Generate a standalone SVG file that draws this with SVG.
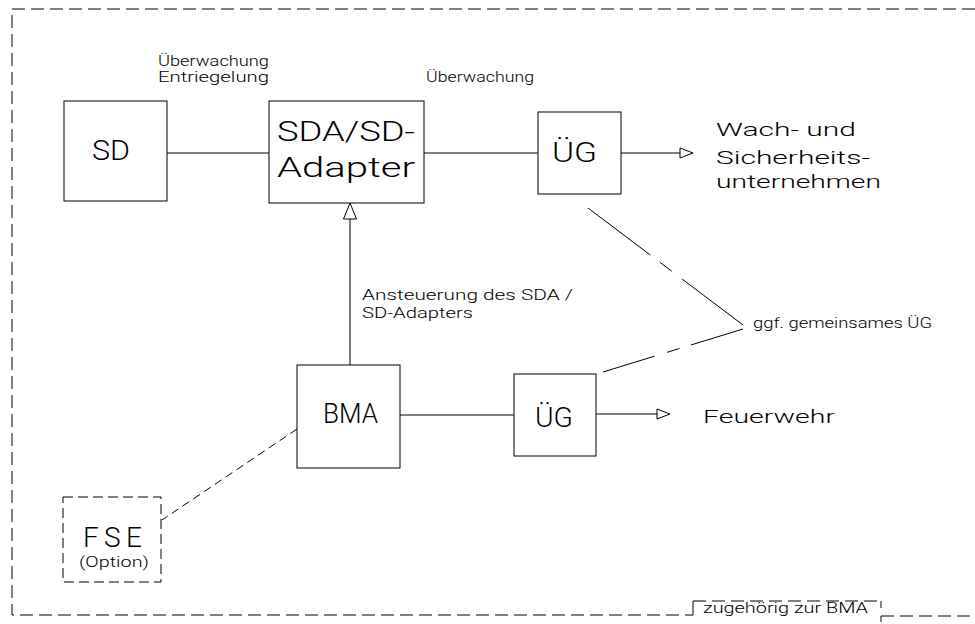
<svg xmlns="http://www.w3.org/2000/svg" width="975" height="624" viewBox="0 0 975 624">
<style>
.bg{fill:#fff}
.box{fill:#fff;stroke:#000;stroke-width:1}
.ln{fill:none;stroke:#000;stroke-width:1}
.dash{fill:none;stroke:#000;stroke-width:1;stroke-dasharray:13 6}
.dash2{fill:none;stroke:#000;stroke-width:1;stroke-dasharray:8 5}
.head{fill:#fff;stroke:#000;stroke-width:1}
text{font-family:"DejaVu Sans ExtraLight","Roboto Light",Inter,"DejaVu Sans",sans-serif;font-weight:200;fill:#000}
.s{font-size:14.5px}
.m{font-size:18px}
.l{font-size:28px}
</style>
<rect class="bg" x="0" y="0" width="975" height="624"/>
<g id="frame">
<path class="dash" d="M975,9 H12 V615 H693"/>
<path class="ln" d="M693,615 V601"/>
<path class="dash" d="M693,601 H881"/>
<path class="ln" d="M881,601 V608"/>
<path class="ln" d="M881,622 V616"/>
<path class="dash" d="M881,616 H975"/>
<text class="s" x="703" y="613" textLength="165" lengthAdjust="spacingAndGlyphs">zugehörig zur BMA</text>
</g>
<g id="connectors">
<line class="ln" x1="167" y1="153" x2="269" y2="153"/>
<line class="ln" x1="424" y1="153" x2="538" y2="153"/>
<line class="ln" x1="621" y1="153" x2="680" y2="153"/>
<polygon class="head" points="680,148 693,153 680,158"/>
<line class="ln" x1="350" y1="365" x2="350" y2="219"/>
<polygon class="head" points="343.5,219 350,203 356.5,219"/>
<line class="ln" x1="400" y1="415" x2="514" y2="415"/>
<line class="ln" x1="596" y1="414" x2="657" y2="414"/>
<polygon class="head" points="657,409 670,414 657,419"/>
<line class="ln" x1="588" y1="208" x2="743" y2="325" stroke-dasharray="78 12 15 13 200"/>
<line class="ln" x1="603" y1="372" x2="743" y2="329" stroke-dasharray="54 13 13 12 200"/>
<line class="dash2" x1="297" y1="429" x2="162" y2="520"/>
</g>
<g id="labels">
<text class="s" x="158" y="66" textLength="111" lengthAdjust="spacingAndGlyphs">Überwachung</text>
<text class="s" x="158" y="82" textLength="111" lengthAdjust="spacingAndGlyphs">Entriegelung</text>
<text class="s" x="426" y="82" textLength="108" lengthAdjust="spacingAndGlyphs">Überwachung</text>
<text class="s" x="362" y="300" textLength="211" lengthAdjust="spacingAndGlyphs">Ansteuerung des SDA /</text>
<text class="s" x="362" y="318" textLength="111" lengthAdjust="spacingAndGlyphs">SD-Adapters</text>
<text class="s" x="753" y="328" textLength="179" lengthAdjust="spacingAndGlyphs">ggf. gemeinsames ÜG</text>
</g>
<g id="SD">
<rect class="box" x="64" y="101" width="103" height="100"/>
<text class="l" x="92" y="160" textLength="38" lengthAdjust="spacingAndGlyphs">SD</text>
</g>
<g id="SDA">
<rect class="box" x="269" y="101" width="155" height="102"/>
<text class="l" x="277" y="141" textLength="138" lengthAdjust="spacingAndGlyphs">SDA/SD-</text>
<text class="l" x="277" y="177" textLength="138" lengthAdjust="spacingAndGlyphs">Adapter</text>
</g>
<g id="UG1">
<rect class="box" x="538" y="112" width="83" height="82"/>
<text class="l" x="552" y="162" textLength="45" lengthAdjust="spacingAndGlyphs">ÜG</text>
</g>
<g id="Wach">
<text class="m" x="716" y="136" textLength="140" lengthAdjust="spacingAndGlyphs">Wach- und</text>
<text class="m" x="716" y="164" textLength="154" lengthAdjust="spacingAndGlyphs">Sicherheits-</text>
<text class="m" x="716" y="188" textLength="165" lengthAdjust="spacingAndGlyphs">unternehmen</text>
</g>
<g id="BMA">
<rect class="box" x="297" y="365" width="103" height="103"/>
<text class="l" x="323" y="423" textLength="55" lengthAdjust="spacingAndGlyphs">BMA</text>
</g>
<g id="UG2">
<rect class="box" x="514" y="374" width="82" height="82"/>
<text class="l" x="535" y="427" textLength="38" lengthAdjust="spacingAndGlyphs">ÜG</text>
</g>
<g id="Feuerwehr">
<text class="m" x="703" y="423" textLength="132" lengthAdjust="spacingAndGlyphs">Feuerwehr</text>
</g>
<g id="FSE">
<rect class="dash2" x="63" y="497" width="98" height="85" style="stroke-dasharray:10 5"/>
<text class="l" x="83" y="547" textLength="59" lengthAdjust="spacing">FSE</text>
<text class="s" x="79" y="567" textLength="70" lengthAdjust="spacingAndGlyphs">(Option)</text>
</g>
</svg>
